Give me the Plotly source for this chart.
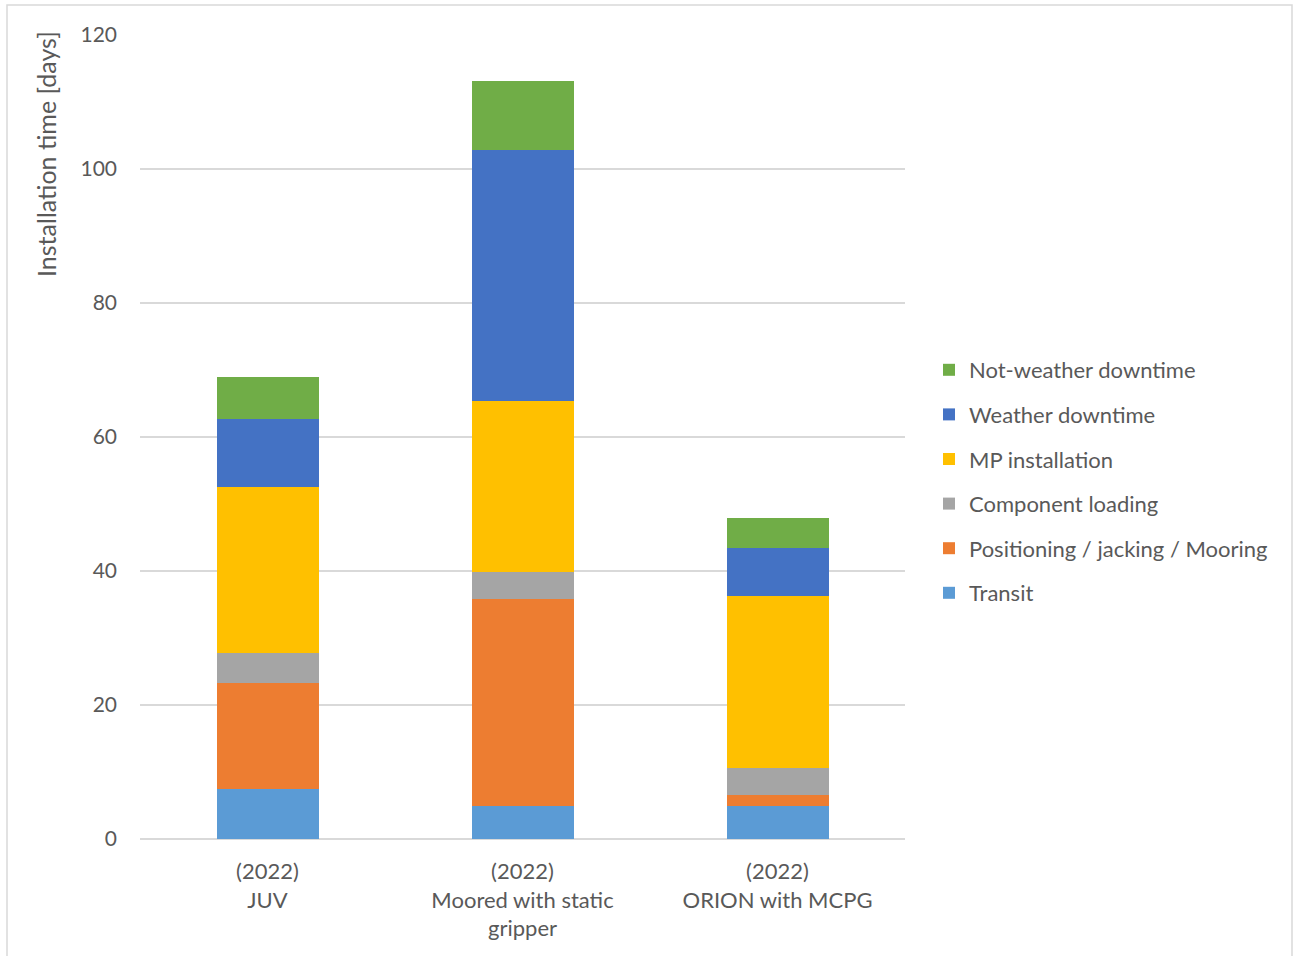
import plotly.graph_objects as go

categories = ["(2022)<br>JUV", "(2022)<br>Moored with static<br>gripper", "(2022)<br>ORION with MCPG"]
transit = [7.5, 4.9, 5.0]
positioning = [15.8, 30.9, 1.6]
component = [4.4, 4.0, 4.0]
mp_install = [24.8, 25.5, 25.6]
weather = [10.2, 37.6, 7.3]
not_weather = [6.3, 10.3, 4.4]

series = [
    ("Transit", transit, "#5B9BD5"),
    ("Positioning / jacking / Mooring", positioning, "#ED7D31"),
    ("Component loading", component, "#A5A5A5"),
    ("MP installation", mp_install, "#FFC000"),
    ("Weather downtime", weather, "#4472C4"),
    ("Not-weather downtime", not_weather, "#70AD47"),
]

FONT = "Lato"
TXT = "#595959"

fig = go.Figure()
n = len(series)
for i, (name, vals, col) in enumerate(series):
    fig.add_trace(go.Bar(
        x=categories, y=vals, name=name, marker_color=col,
        marker_line_width=0, legendgroup=f"g{i}", legendrank=1000 + (n - i),
    ))

fig.update_layout(
    barmode="stack",
    bargap=0.6,
    width=1295, height=956,
    margin=dict(l=140, r=390, t=35, b=117),
    paper_bgcolor="white", plot_bgcolor="white",
    font=dict(family=FONT, size=22, color=TXT),
    showlegend=True,
    legend=dict(
        x=(929 - 140) / 765, xanchor="left", y=(839 - 349) / 804, yanchor="top",
        traceorder="grouped", tracegroupgap=13,
        font=dict(family=FONT, size=22, color=TXT),
        itemwidth=30,
    ),
    xaxis=dict(showgrid=False, showline=False, ticks="", ticklabelstandoff=17,
               tickfont=dict(family=FONT, size=22, color=TXT)),
    yaxis=dict(range=[0, 120], dtick=20, showgrid=True, gridcolor="#D9D9D9",
               gridwidth=1.5, zeroline=True, zerolinecolor="#D9D9D9", zerolinewidth=1.5,
               showline=False, ticks="", ticklabelstandoff=22,
               tickfont=dict(family=FONT, size=21, color=TXT)),
)

fig.add_annotation(
    text="Installation time [days]", textangle=-90,
    xref="paper", yref="paper", x=(46 - 140) / 765, y=(839 - 154) / 804,
    xanchor="center", yanchor="middle", showarrow=False,
    font=dict(family=FONT, size=25, color=TXT),
)

fig.add_shape(
    type="rect", xref="paper", yref="paper",
    x0=(7 - 140) / 765, x1=(1292 - 140) / 765,
    y0=(839 - 960) / 804, y1=(839 - 5) / 804,
    line=dict(color="#D9D9D9", width=1.5), fillcolor="rgba(0,0,0,0)", layer="below",
)

fig.write_html("out.html")
